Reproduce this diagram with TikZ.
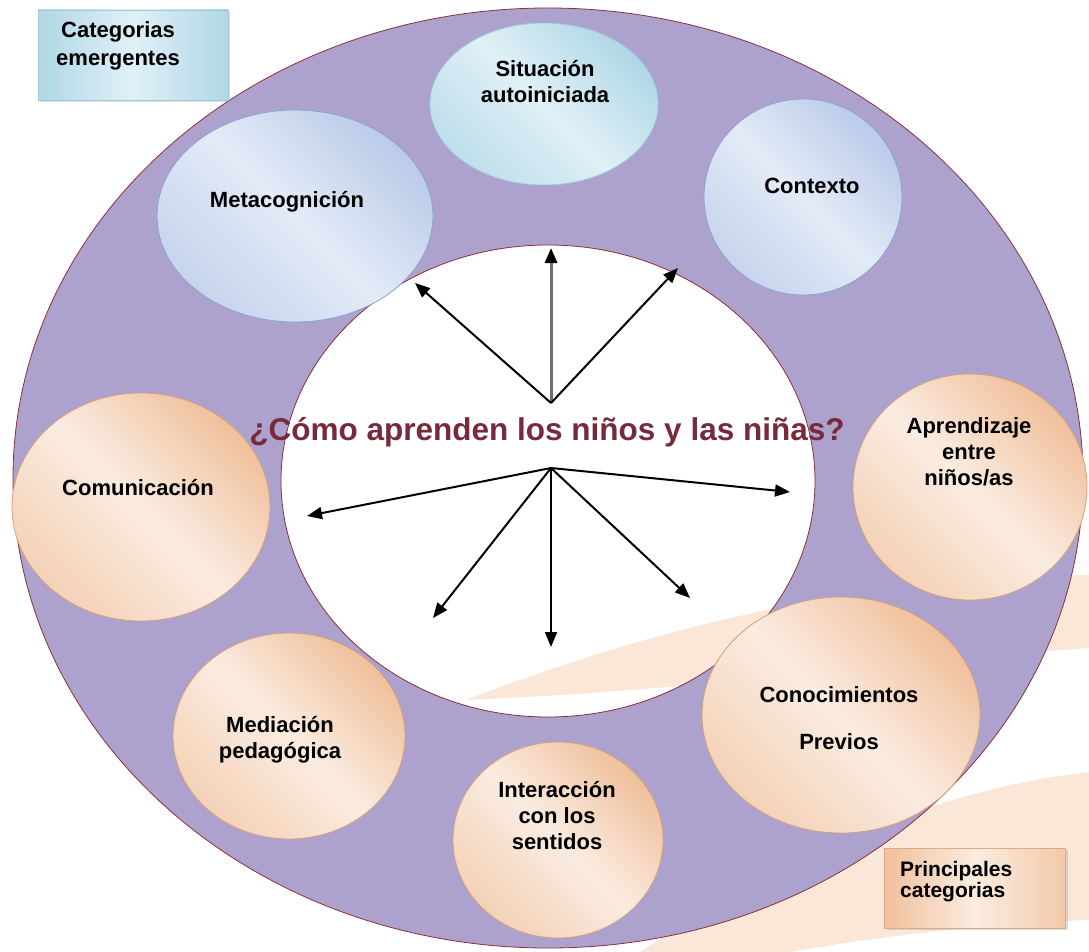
\documentclass[tikz,border=0pt]{standalone}
\usepackage{fontspec}
\setsansfont{Liberation Sans}
\usetikzlibrary{shapes.geometric,arrows.meta,shadows}

\definecolor{ringfill}{RGB}{173,162,206}
\definecolor{ringline}{RGB}{140,47,57}
\definecolor{swoosh}{RGB}{250,231,216}
\definecolor{peachD}{RGB}{240,192,155}
\definecolor{peachL}{RGB}{250,236,225}
\definecolor{peachE}{RGB}{214,160,122}
\definecolor{blueD}{RGB}{186,202,232}
\definecolor{blueL}{RGB}{228,235,247}
\definecolor{blueE}{RGB}{138,162,206}
\definecolor{cyanD}{RGB}{176,215,230}
\definecolor{cyanL}{RGB}{224,240,246}
\definecolor{cyanE}{RGB}{158,204,222}
\definecolor{titlecol}{RGB}{118,42,58}
\definecolor{upgray}{RGB}{110,110,110}

\tikzset{ball/.style={ellipse, inner sep=0pt, line width=0.8pt}}
\tikzset{peachball/.style={ball, draw=peachE, top color=peachD,
           bottom color=peachD!60!peachL, middle color=peachL, shading angle=-45},
         blueball/.style={ball, draw=blueE, top color=blueD,
           bottom color=blueD!70!blueL, middle color=blueL, shading angle=-45},
         cyanball/.style={ball, draw=cyanE, top color=cyanD,
           bottom color=cyanD!70!cyanL, middle color=cyanL, shading angle=-45}}
\tikzset{balltext/.style={font=\sffamily\bfseries\fontsize{22}{26}\selectfont,
           align=center, inner sep=0pt},
         tagbox/.style={rectangle, inner sep=0pt, line width=0.8pt,
           drop shadow={opacity=0.25, shadow xshift=2pt, shadow yshift=-2pt}},
         arr/.style={line width=2pt, -{Triangle[length=15pt,width=12pt]}}}

\begin{document}
\begin{tikzpicture}[x=1pt,y=-1pt]
    \useasboundingbox (0,0) rectangle (1089,952);
    \fill[white] (0,0) rectangle (1089,952);
    % background swooshes
    \fill[swoosh] (465,700) .. controls (600,650) and (800,580) .. (1089,575)
      -- (1089,648) .. controls (900,662) and (700,690) .. (465,700) -- cycle;
    \fill[swoosh] (640,952) .. controls (780,860) and (930,790) .. (1089,772)
      -- (1089,920) .. controls (960,925) and (860,940) .. (790,952) -- cycle;
    % the ring
    \draw[ringline, line width=0.8pt, fill=ringfill, even odd rule]
      (548,478) ellipse [x radius=535, y radius=470]
      (548,481) ellipse [x radius=267, y radius=236];

    \node[tagbox, left color=cyanD, right color=cyanD, middle color=cyanL, draw=cyanE,
          minimum width=190pt, minimum height=90pt] (emerg) at (133,55) {};
    \node[balltext, font=\sffamily\bfseries\fontsize{22}{28}\selectfont] (emergT) at (118,46)
      {Categorias\\emergentes};

    \node[cyanball, minimum width=228pt, minimum height=162pt] (sit) at (544,104) {};
    \node[blueball, minimum width=276pt, minimum height=212pt] (meta) at (295,216) {};
    \node[blueball, minimum width=198pt, minimum height=196pt] (ctx) at (803,197) {};
    \node[peachball, minimum width=234pt, minimum height=226pt] (apr) at (970,487) {};
    \node[peachball, minimum width=258pt, minimum height=228pt] (com) at (141,507) {};
    \node[peachball, minimum width=232pt, minimum height=206pt] (med) at (289,736) {};
    \node[peachball, minimum width=210pt, minimum height=196pt] (sent) at (558,840) {};
    \node[peachball, minimum width=278pt, minimum height=236pt] (prev) at (841,715) {};

    \node[balltext] (sitT) at (545,82) {Situación\\autoiniciada};
    \node[balltext] (metaT) at (287,202) {Metacognición};
    \node[balltext] (ctxT) at (812,186) {Contexto};
    \node[balltext] (aprT) at (969,452) {Aprendizaje\\entre\\niños/as};
    \node[balltext] (comT) at (138,488) {Comunicación};
    \node[balltext] (medT) at (280,740) {Mediación\\pedagógica};
    \node[balltext] (sentT) at (557,816) {Interacción\\con los\\sentidos};
    \node[balltext] (prevT) at (839,718) {Conocimientos\\[21pt]Previos};

    \node[tagbox, left color=peachD, right color=peachD!80!peachL, middle color=peachL,
          draw=peachE!70!peachD, minimum width=181pt, minimum height=80pt] (princ) at (975,888) {};
    \node[balltext, align=left, anchor=west, font=\sffamily\bfseries\fontsize{21}{21}\selectfont]
      (princT) at (900,882) {Principales\\categorias};

    % question and arrows
    \node[font=\sffamily\bfseries\fontsize{31.5}{36}\selectfont, text=titlecol, anchor=base,
          inner sep=0pt] (quest) at (547,440) {¿Cómo aprenden los niños y las niñas?};

    \coordinate (hubA) at (551,403);
    \coordinate (hubB) at (551,468);
    \coordinate (tipUp) at (551,248);
    \coordinate (tipUL) at (415,283);
    \coordinate (tipUR) at (678,268);
    \coordinate (tipL) at (307,516);
    \coordinate (tipR) at (790,492);
    \coordinate (tipDL) at (433,618);
    \coordinate (tipD) at (551,647);
    \coordinate (tipDR) at (690,598);

    \draw[arr, draw=upgray, line width=3pt, -{Triangle[length=15pt,width=12pt,color=black]}] (hubA) -- (tipUp);
    \draw[arr] (hubA) -- (tipUL);
    \draw[arr] (hubA) -- (tipUR);
    \draw[arr] (hubB) -- (tipL);
    \draw[arr] (hubB) -- (tipR);
    \draw[arr] (hubB) -- (tipDL);
    \draw[arr] (hubB) -- (tipD);
    \draw[arr] (hubB) -- (tipDR);
  \end{tikzpicture}
\end{document}
